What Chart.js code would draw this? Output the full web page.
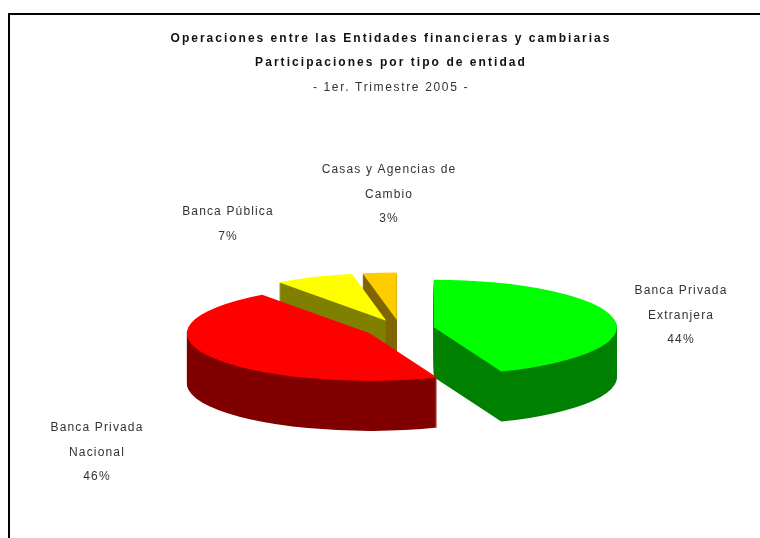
<!DOCTYPE html>
<html>
<head>
<meta charset="utf-8">
<style>
  html, body { margin: 0; padding: 0; background: #fff; overflow: hidden; }
  #wrap { position: absolute; left: 0; top: 0; width: 760px; height: 538px; }
</style>
<script src="https://cdn.jsdelivr.net/npm/chart.js@4"></script>
</head>
<body>
<div id="wrap"><canvas id="pie"></canvas></div>
<script>
const titleLines = [
  "Operaciones entre las Entidades financieras y cambiarias",
  "Participaciones por tipo de entidad",
  "- 1er. Trimestre 2005 -"
];
const categories = [
  ["Banca Privada", "Extranjera"],
  ["Banca Privada", "Nacional"],
  ["Banca Pública"],
  ["Casas y Agencias de", "Cambio"]
];
const values = [44, 46, 7, 3];
const topColors = ["#00ff00", "#ff0000", "#ffff00", "#ffcc00"];
const sideColors = ["#008000", "#800000", "#808000", "#806600"];
// where each label block sits: centre x, first line y
const labelSpots = [[681, 291], [97, 428], [228, 212], [389, 170]];

const squash = 0.26;
const depth = 50;
const centerY = 329;
const explode = 34.5;
const paintOrder = [3, 2, 0, 1];

function spacedText(ctx, text, x, y, font, spacing, color) {
  ctx.font = font;
  ctx.letterSpacing = spacing;
  ctx.textAlign = "center";
  ctx.textBaseline = "middle";
  ctx.fillStyle = color;
  ctx.fillText(text, x, y);
}

const tiltedPie = {
  id: "tiltedPie",
  beforeDatasetDraw(chart, args) {
    const ctx = chart.ctx;
    const arcs = args.meta.data;
    paintOrder.forEach(i => {
      const arc = arcs[i];
      const mid = (arc.startAngle + arc.endAngle) / 2;
      const side = Object.create(arc);
      side.options = { ...arc.options, backgroundColor: sideColors[i] };
      for (let d = depth; d >= 0; d--) {
        ctx.save();
        ctx.translate(0, centerY + d);
        ctx.scale(1, squash);
        ctx.translate(Math.cos(mid) * explode, Math.sin(mid) * explode - arc.y);
        (d === 0 ? arc : side).draw(ctx);
        ctx.restore();
      }
    });
    return false;
  },
  afterDraw(chart) {
    const ctx = chart.ctx;
    ctx.save();
    // frame, only top and left show in the window
    ctx.fillStyle = "#000";
    ctx.fillRect(8, 13, 752, 2);
    ctx.fillRect(8, 13, 2, 525);

    spacedText(ctx, titleLines[0], 391, 39, "bold 12px 'Liberation Sans'", "2px", "#111");
    spacedText(ctx, titleLines[1], 391, 63, "bold 12px 'Liberation Sans'", "2.05px", "#111");
    spacedText(ctx, titleLines[2], 391, 88, "12px 'Liberation Sans'", "1.65px", "#333");

    categories.forEach((lines, i) => {
      const [x, y] = labelSpots[i];
      lines.concat(values[i] + "%").forEach((line, n) => {
        spacedText(ctx, line, x, y + n * 24.3, "12px 'Liberation Sans'", "1.15px", "#333");
      });
    });
    ctx.restore();
  }
};

new Chart(document.getElementById("pie"), {
  type: "pie",
  data: {
    labels: categories.map(c => c.join(" ")),
    datasets: [{
      data: values,
      backgroundColor: topColors,
      borderWidth: 0
    }]
  },
  options: {
    responsive: true,
    maintainAspectRatio: false,
    animation: false,
    layout: { padding: { left: 40, right: 0, top: 86, bottom: 86 } },
    plugins: { legend: { display: false }, title: { display: false }, tooltip: { enabled: false } }
  },
  plugins: [tiltedPie]
});
</script>
</body>
</html>
